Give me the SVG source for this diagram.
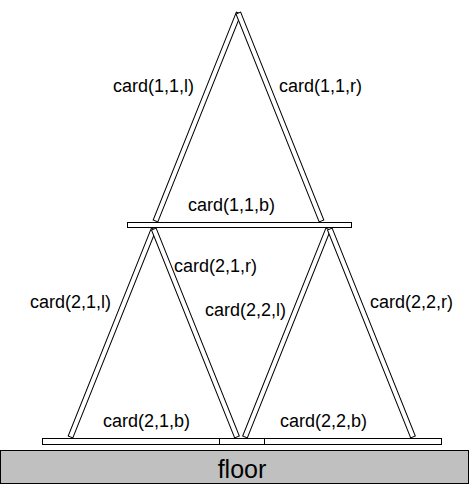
<svg xmlns="http://www.w3.org/2000/svg" width="469" height="484" viewBox="0 0 469 484">
<style>
.card{fill:#fff;stroke:#000;stroke-width:1}
.bar{fill:none;stroke:#000;stroke-width:1}
.lbl{font-family:"Liberation Sans",Arial,sans-serif;font-size:18px;fill:#000}
.floorlbl{font-family:"Liberation Sans",Arial,sans-serif;font-size:25px;fill:#000;text-anchor:middle}
</style>
<rect width="469" height="484" fill="#fff"/>
<g id="floor">
<rect x="0.5" y="450.5" width="468" height="33" fill="#c0c0c0" stroke="#000" stroke-width="1"/>
<text class="floorlbl" x="242" y="478">floor</text>
</g>
<g id="card-1-1-l">
<rect class="card" x="-2.5" y="-224" width="5" height="224" transform="translate(155.5,221) rotate(21.8)"/>
<text class="lbl" x="113" y="92">card(1,1,l)</text>
</g>
<g id="card-1-1-r">
<rect class="card" x="-2.5" y="-224" width="5" height="224" transform="translate(321.5,221) rotate(-21.8)"/>
<text class="lbl" x="279" y="92">card(1,1,r)</text>
</g>
<g id="card-1-1-b">
<rect class="card" x="127.5" y="222.5" width="224" height="5"/>
<text class="lbl" x="188" y="211">card(1,1,b)</text>
</g>
<g id="card-2-1-l">
<rect class="card" x="-2.5" y="-224" width="5" height="224" transform="translate(70.5,437) rotate(21.8)"/>
<text class="lbl" x="30" y="308">card(2,1,l)</text>
</g>
<g id="card-2-1-r">
<rect class="card" x="-2.5" y="-224" width="5" height="224" transform="translate(237,437) rotate(-21.8)"/>
<text class="lbl" x="174" y="272">card(2,1,r)</text>
</g>
<g id="card-2-2-l">
<rect class="card" x="-2.5" y="-224" width="5" height="224" transform="translate(245,437) rotate(21.8)"/>
<text class="lbl" x="205" y="316">card(2,2,l)</text>
</g>
<g id="card-2-2-r">
<rect class="card" x="-2.5" y="-224" width="5" height="224" transform="translate(413,437) rotate(-21.8)"/>
<text class="lbl" x="370" y="308">card(2,2,r)</text>
</g>
<g id="card-2-1-b">
<rect class="bar" x="42.5" y="438.5" width="222" height="6"/>
<text class="lbl" x="103" y="427">card(2,1,b)</text>
</g>
<g id="card-2-2-b">
<rect class="bar" x="219.5" y="438.5" width="222" height="6"/>
<text class="lbl" x="280" y="427">card(2,2,b)</text>
</g>
<g id="connectors"></g>
</svg>
